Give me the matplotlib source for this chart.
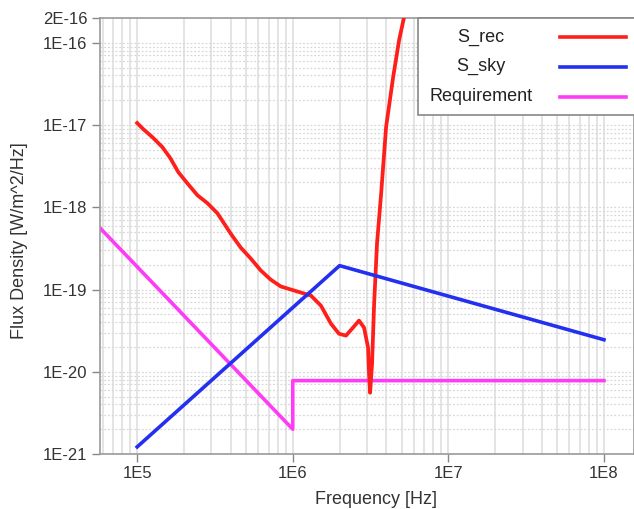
import matplotlib
matplotlib.use("Agg")
import matplotlib.pyplot as plt
from matplotlib.patches import Rectangle
from matplotlib.lines import Line2D

plt.rcParams['font.family'] = ['Liberation Sans', 'DejaVu Sans']

# S_rec
rec_f = [1.0e5, 1.093e5, 1.25e5, 1.45e5, 1.633e5, 1.839e5, 2.10e5, 2.44e5, 2.83e5, 3.28e5,
         3.98e5, 4.62e5, 5.36e5, 6.22e5, 7.21e5, 8.37e5, 9.71e5, 1.126e6, 1.307e6, 1.516e6,
         1.759e6, 1.981e6, 2.198e6, 2.439e6, 2.666e6, 2.872e6, 3.048e6, 3.093e6, 3.14e6, 3.234e6,
         3.33e6, 3.48e6, 3.70e6, 3.98e6, 4.42e6, 4.83e6, 5.20e6, 5.6e6]
rec_s = [1.057e-17, 8.93e-18, 7.15e-18, 5.40e-18, 3.96e-18, 2.67e-18, 1.96e-18, 1.40e-18, 1.12e-18, 8.45e-19,
         4.82e-19, 3.25e-19, 2.39e-19, 1.71e-19, 1.32e-19, 1.09e-19, 1.0e-19, 9.18e-20, 8.45e-20, 6.38e-20,
         3.85e-20, 2.90e-20, 2.75e-20, 3.44e-20, 4.19e-20, 3.44e-20, 1.96e-20, 9.46e-21, 5.55e-21, 1.25e-20,
         6.38e-20, 3.64e-19, 1.48e-18, 9.47e-18, 3.85e-17, 1.09e-16, 2.07e-16, 3.9e-16]

# S_sky
sky_f = [1e5, 2e6, 1e8]
sky_s = [1.22e-21, 1.95e-19, 2.45e-20]

# Requirement
req_f = [5.77e4, 1e6, 1e6, 1e8]
req_s = [5.6e-19, 2.0e-21, 7.8e-21, 7.8e-21]

labels = ["S_rec", "S_sky", "Requirement"]
colors = ["#ff1f1a", "#2430f0", "#ff3cf5"]

xticks = [1e5, 1e6, 1e7, 1e8]
xticklabels = ["1E5", "1E6", "1E7", "1E8"]
yticks = [1e-21, 1e-20, 1e-19, 1e-18, 1e-17, 1e-16, 2e-16]
yticklabels = ["1E-21", "1E-20", "1E-19", "1E-18", "1E-17", "1E-16", "2E-16"]

fig = plt.figure(figsize=(6.34, 5.09), dpi=100)
ax = fig.add_axes([100 / 634, 1 - 454 / 509, 534 / 634, 436 / 509])

ax.set_xscale("log")
ax.set_yscale("log")
ax.set_xlim(5.77e4, 1.56e8)
ax.set_ylim(1e-21, 2e-16)

# grid: solid vertical, dotted horizontal
for d in range(4, 9):
    for m in range(1, 10):
        v = m * 10.0 ** d
        if 5.77e4 < v < 1.56e8:
            ax.axvline(v, color="#e2e2e2", lw=1.3, zorder=0)
for d in range(-21, -15):
    for m in range(1, 10):
        v = m * 10.0 ** d
        if 1e-21 < v < 2e-16:
            ax.axhline(v, color="#d8d8d8", lw=0.9, ls=(0, (1.5, 1.5)), zorder=0)

ax.plot(rec_f, rec_s, color=colors[0], lw=2.7, zorder=3, solid_joinstyle="round")
ax.plot(sky_f, sky_s, color=colors[1], lw=2.6, zorder=3)
ax.plot(req_f, req_s, color=colors[2], lw=2.6, zorder=2)

ax.set_xticks(xticks)
ax.set_xticklabels(xticklabels)
ax.set_yticks(yticks)
ax.set_yticklabels(yticklabels)
ax.minorticks_off()
ax.tick_params(axis="both", direction="out", length=6, width=1, color="#888888",
               labelcolor="#333333", labelsize=12, pad=3)

for side in ["top", "right", "left", "bottom"]:
    ax.spines[side].set_color("#999999")
    ax.spines[side].set_linewidth(1.2)

ax.set_xlabel("Frequency [Hz]", fontsize=13, color="#333333")
ax.xaxis.set_label_coords(0.517, -0.086)
ax.set_ylabel("Flux Density [W/m^2/Hz]", fontsize=13, color="#333333")
ax.yaxis.set_label_coords(-0.135, 0.49)

# legend box
box = Rectangle((0.5955, 0.7775), 0.45, 0.2225, transform=ax.transAxes,
                facecolor="white", edgecolor="#888888", lw=1.2, zorder=5, clip_on=False)
ax.add_patch(box)
rows = [0.956, 0.888, 0.819]
for lab, col, yy in zip(labels, colors, rows):
    ax.text(0.7135, yy, lab, transform=ax.transAxes, ha="center", va="center",
            fontsize=13, color="#222222", zorder=6)
    ax.add_line(Line2D([0.861, 0.985], [yy, yy], transform=ax.transAxes,
                       color=col, lw=2.6, zorder=6, clip_on=False))

fig.savefig("out.png", dpi=100)
